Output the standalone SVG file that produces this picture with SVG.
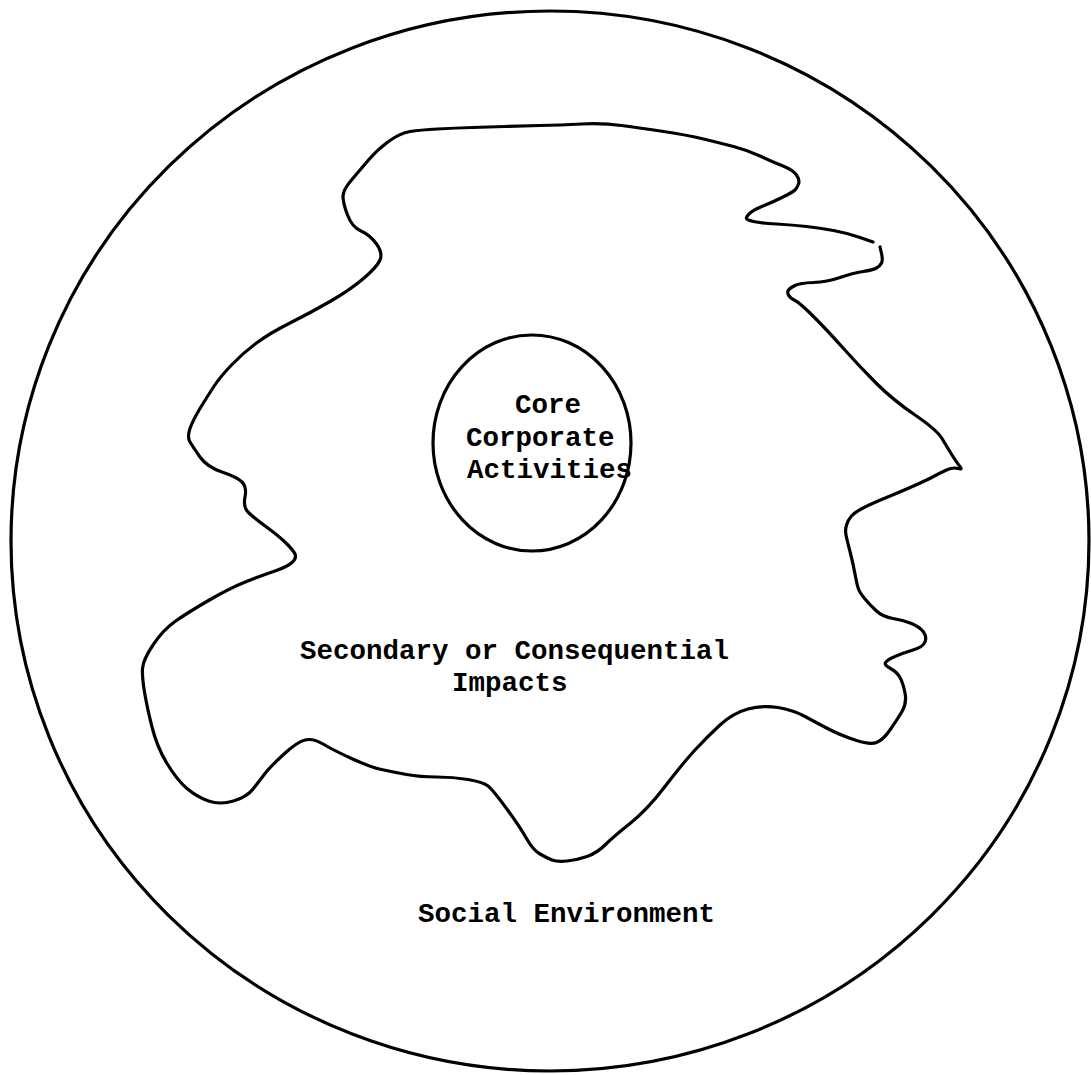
<svg xmlns="http://www.w3.org/2000/svg" width="1091" height="1075" viewBox="0 0 1091 1075">
<style>
.ln{fill:none;stroke:#000;stroke-width:3.2;stroke-linejoin:round;stroke-linecap:round}
.t{font-family:"Liberation Mono","Courier New",monospace;font-size:27.5px;font-weight:bold;fill:#000}
</style>
<rect width="1091" height="1075" fill="#fff"/>
<g id="social-environment">
<ellipse class="ln" cx="550" cy="541" rx="539" ry="530"/>
<text class="t" x="418" y="922">Social Environment</text>
</g>
<g id="secondary-impacts">
<path class="ln" d="M880,247 L881.5,253.5 Q883,260 881.5,263 Q880,266 876.5,268 Q873,270 863,271.5 Q853,273 840,277.5 Q827,282 813.5,282.5 Q800,283 795,285.5 Q790,288 788.5,290 Q787,292 788.5,295 Q790,298 795,300.5 Q800,303 813.5,316.5 Q827,330 843.5,348.5 Q860,367 876.5,383.5 Q893,400 915,415 Q937,430 942,438.5 Q947,447 952,455 Q957,463 960,466.5 Q963,470 958,468.5 Q953,467 946.5,470 Q940,473 933.5,476.5 Q927,480 913.5,486 Q900,492 886.5,497.5 Q873,503 864,507.5 Q855,512 851.5,516 Q848,520 846.5,525 Q845,530 846,535 Q847,540 850,551.5 Q853,563 855,574 Q857,585 858.5,589 Q860,593 865,599 Q870,605 876.5,611 Q883,617 893,618.5 Q903,620 911.5,623.5 Q920,627 923.5,632 Q927,637 925,642 Q923,647 913,650 Q903,653 895,656.5 Q887,660 885.5,662.5 Q884,665 890.5,668.5 Q897,672 900,677.5 Q903,683 905,693 Q907,703 902,711.5 Q897,720 890,730 Q883,740 876.5,742.5 Q870,745 855,740 Q840,735 828.5,729 Q817,723 805,716.5 Q793,710 778,707.5 Q763,705 748,709 Q733,713 720,725 Q707,737 695,750 Q683,763 665,786.5 Q647,810 630,823.5 Q613,837 605,845 Q597,853 587,856.5 Q577,860 567,861 Q557,862 552,860 Q547,858 540,854 Q533,850 526.5,838.5 Q520,827 506.5,808.5 Q493,790 488,786 Q483,782 468,779.5 Q453,777 436.5,777 Q420,777 406.5,774.5 Q393,772 381.5,769.5 Q370,767 351.5,758.5 Q333,750 323,744 Q313,738 305,740 Q297,742 283.5,754.5 Q270,767 265,773.5 Q260,780 253.5,788.5 Q247,797 233.5,801 Q220,805 208.5,801 Q197,797 187,788.5 Q177,780 167,763.5 Q157,747 152,727 Q147,707 144.5,692 Q142,677 142.5,668.5 Q143,660 153,645 Q163,630 175,621.5 Q187,613 208.5,600.5 Q230,588 246.5,581.5 Q263,575 275,571 Q287,567 292,562.5 Q297,558 295,554 Q293,550 286.5,543.5 Q280,537 266.5,527 Q253,517 248,512 Q243,507 245,497 Q247,487 242,482 Q237,477 222,472 Q207,467 200,457 Q193,447 190,442 Q187,437 190,428.5 Q193,420 200,408.5 Q207,397 213.5,387 Q220,377 231.5,365 Q243,353 256.5,343 Q270,333 290,323 Q310,313 330,301.5 Q350,290 363.5,278.5 Q377,267 380,260 Q383,253 376.5,244 Q370,235 361,231 Q352,227 347.5,215 Q343,203 343,196.5 Q343,190 351.5,180 Q360,170 368.5,160 Q377,150 388.5,141.5 Q400,133 410,131.5 Q420,130 437.5,129 Q455,128 472.5,127.5 Q490,127 505,126.5 Q520,126 540,125.5 Q560,125 581.5,124 Q603,123 621.5,125.5 Q640,128 663.5,131.5 Q687,135 703.5,139 Q720,143 733.5,146.5 Q747,150 760,156 Q773,162 783,166 Q793,170 796.5,175 Q800,180 798.5,184 Q797,188 795,190 Q793,192 783,197 Q773,202 763,206 Q753,210 749.5,213.5 Q746,217 746.5,218.5 Q747,220 753.5,221.5 Q760,223 776.5,224 Q793,225 806.5,226.5 Q820,228 833.5,230.5 Q847,233 860,237.5 L873,242"/>
<text class="t" x="300" y="659">Secondary or Consequential</text>
<text class="t" x="452" y="691">Impacts</text>
</g>
<g id="core-activities">
<ellipse class="ln" cx="532" cy="443" rx="99" ry="108" stroke-width="2.6"/>
<text class="t" x="515" y="413">Core</text>
<text class="t" x="466" y="446">Corporate</text>
<text class="t" x="467" y="478">Activities</text>
</g>
<g id="connectors"/>
</svg>
